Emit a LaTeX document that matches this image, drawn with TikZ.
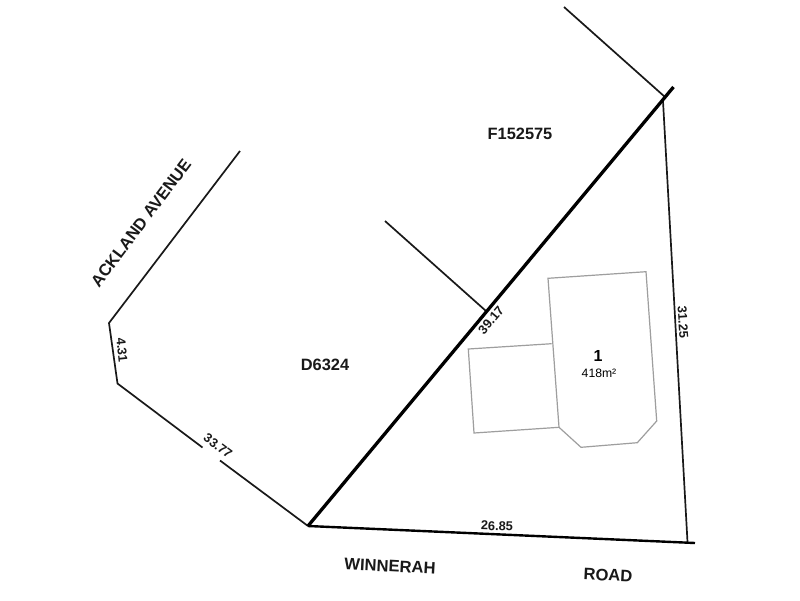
\documentclass[tikz,border=0pt]{standalone}
\usepackage{fontspec}
\setmainfont{Liberation Sans}
\tikzset{
  x=1pt,y=-1pt,
  boundary/.style={draw=black!90,line width=1.7pt,line cap=butt},
  heavy/.style={draw=black,line width=3.3pt},
  mid/.style={draw=black,line width=2.4pt},
  house/.style={draw=black!38,line width=1.2pt,line join=miter},
  road/.style={font=\bfseries\fontsize{16.6}{18}\selectfont,text=black!90,inner sep=0pt},
  lot/.style={font=\bfseries\fontsize{16.4}{18}\selectfont,text=black!90,inner sep=0pt},
  dim/.style={font=\bfseries\fontsize{12.8}{14}\selectfont,text=black!90,inner sep=0pt},
}
\begin{document}
\begin{tikzpicture}
\useasboundingbox (0,0) rectangle (800,600);
\fill[white] (0,0) rectangle (800,600);
\coordinate (topA) at (564,7);
\coordinate (topB) at (665,97);
\coordinate (diagS) at (308,526);
\coordinate (diagN) at (673.5,87);
\coordinate (rightT) at (663,101);
\coordinate (rightB) at (687.5,542);
\coordinate (botE) at (695,543);
\coordinate (leftT) at (240,151);
\coordinate (leftM) at (109,323);
\coordinate (leftL) at (117.5,383.5);
\coordinate (gapA) at (202.5,447.5);
\coordinate (gapB) at (220,460.5);
\coordinate (innerA) at (385,221);
\coordinate (innerB) at (486,311);
\draw[boundary] (topA) -- (topB);
\draw[boundary] (innerA) -- (innerB);
\draw[boundary,line join=miter] (leftT) -- (leftM) -- (leftL) -- (gapA);
\draw[boundary] (gapB) -- (diagS);
\draw[boundary] (rightT) -- (rightB);
\draw[heavy] (diagS) -- (diagN);
\draw[mid] (diagS) -- (botE);
\draw[house] (551.7,343.7) -- (468.3,349) -- (474,433) -- (559,427.3);
\draw[house] (559,427.3) -- (548,278.3) -- (646,271.7) -- (656.7,421) -- (637.3,442.7) -- (581,447.3) -- cycle;
\node[lot] (parcelF) at (520,134) {F152575};
\node[lot] (parcelD) at (325,365) {D6324};
\node[road,rotate=53] (ackland) at (141,223) {ACKLAND AVENUE};
\node[road,rotate=-3] (winnerah) at (390,566) {WINNERAH};
\node[road,rotate=-3] (roadname) at (608,575) {ROAD};
\node[font=\bfseries\fontsize{16}{18}\selectfont,inner sep=0pt] (lotno) at (598,356) {1};
\node[font=\fontsize{12.2}{14}\selectfont,inner sep=0pt] (area) at (599,373) {418m²};
\node[dim,rotate=-84] (d431) at (122,350) {4.31};
\node[dim,rotate=-37] (d3377) at (218,446) {33.77};
\node[dim,rotate=50] (d3917) at (491,320) {39.17};
\node[dim,rotate=-86] (d3125) at (683,322) {31.25};
\node[dim,rotate=-2] (d2685) at (497,526) {26.85};
\end{tikzpicture}
\end{document}
